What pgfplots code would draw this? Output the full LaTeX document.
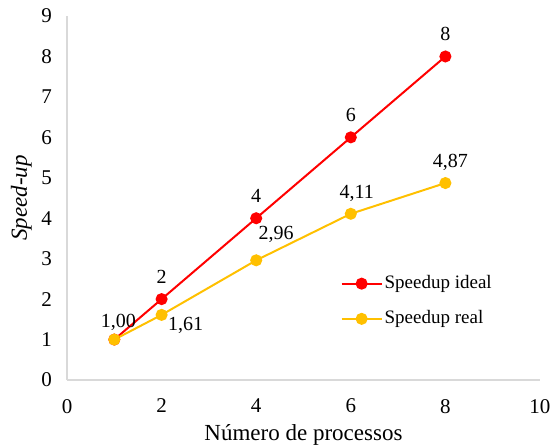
\documentclass[border=0pt]{standalone}
\usepackage{pgfplots}
\usepackage{fontspec}
\setmainfont{Liberation Serif}
\pgfplotsset{compat=1.18}
\definecolor{ideal}{HTML}{FF0000}
\definecolor{real}{HTML}{FFC000}
\definecolor{axisgray}{HTML}{D9D9D9}

\begin{document}
\fontsize{10}{12}\selectfont
\begin{tikzpicture}
\useasboundingbox (-33.5pt,-33pt) rectangle (243pt,190pt);
\begin{axis}[
  scale only axis,
  width=236.5pt, height=182pt,
  xmin=0, xmax=10, ymin=0, ymax=9,
  xtick={0,2,...,10}, ytick={0,1,...,9},
  axis lines*=left,
  axis line style={axisgray, line width=0.6pt},
  major tick length=0pt,
  tick style={draw=none},
  /pgf/number format/assume math mode=true,
  ticklabel style={font=\fontsize{10.5}{12}\selectfont},
  xticklabel style={yshift=-6pt},
  yticklabel style={xshift=-4pt},
  xlabel={Número de processos},
  ylabel={\textit{Speed-up}},
  label style={font=\fontsize{11.5}{13}\selectfont},
  xlabel style={yshift=1pt},
  ylabel style={yshift=-2pt},
  legend style={at={(0.565,0.31)}, anchor=north west, draw=none, fill=none,
    row sep=5.5pt, font=\fontsize{9.5}{11}\selectfont,
    nodes={inner xsep=1pt}},
  legend cell align=left,
  legend image code/.code={
    \draw[#1, mark repeat=2, mark phase=2] plot coordinates {(0pt,0pt) (10pt,0pt) (20pt,0pt)};
  },
  labels/.style 2 args={draw=none, mark=none, forget plot, nodes near coords,
    point meta=explicit symbolic,
    every node near coord/.style={font=\fontsize{10}{12}\selectfont, text=black, inner sep=0pt},
    nodes near coords style={anchor=base, xshift=#1, yshift=#2}},
]
\addplot[color=ideal, line width=1pt, mark=*, mark size=2.5pt,
  mark options={solid, fill=ideal, draw=ideal}]
  coordinates {(1,1) (2,2) (4,4) (6,6) (8,8)};
\addlegendentry{Speedup ideal}
\addplot[color=real, line width=1pt, mark=*, mark size=2.5pt,
  mark options={solid, fill=real, draw=real}]
  coordinates {(1,1.00) (2,1.61) (4,2.96) (6,4.11) (8,4.87)};
\addlegendentry{Speedup real}
% data labels
\addplot[labels={0pt}{8pt}] coordinates {(2,2) [2] (4,4) [4] (6,6) [6] (8,8) [8]};
\addplot[labels={2pt}{6pt}] coordinates {(1,1.00) [{1,00}]};
\addplot[labels={12pt}{-7.8pt}] coordinates {(2,1.61) [{1,61}]};
\addplot[labels={10pt}{10.3pt}] coordinates {(4,2.96) [{2,96}]};
\addplot[labels={3pt}{7.5pt}] coordinates {(6,4.11) [{4,11}]};
\addplot[labels={2.5pt}{8pt}] coordinates {(8,4.87) [{4,87}]};
\end{axis}
\end{tikzpicture}
\end{document}
